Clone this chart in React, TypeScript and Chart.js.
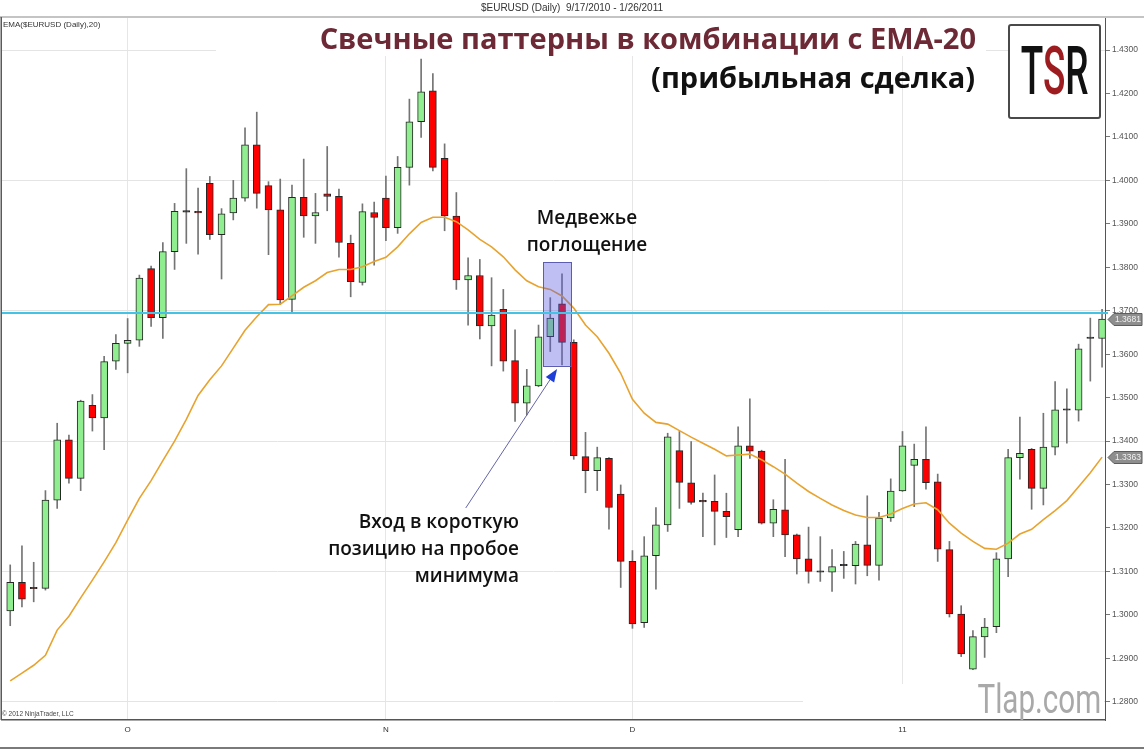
import React, { useEffect, useRef } from "react";
import { Chart, registerables } from "chart.js";

Chart.register(...registerables);

// ---- data (EUR/USD daily, 9/17/2010 - 1/26/2011) ----
const OPEN = [
  1.3009, 1.3075, 1.3061, 1.3061, 1.3264, 1.3403, 1.3314, 1.3482, 1.3453, 1.3584,
  1.3625, 1.3632, 1.3797, 1.3684, 1.3836, 1.3930, 1.3926, 1.3993, 1.3875, 1.3925,
  1.3959, 1.4082, 1.3988, 1.3932, 1.3726, 1.3961, 1.3918, 1.3969, 1.3963, 1.3855,
  1.3765, 1.3926, 1.3959, 1.3891, 1.4030, 1.4135, 1.4206, 1.4051, 1.3918, 1.3771,
  1.3781, 1.3665, 1.3703, 1.3585, 1.3487, 1.3527, 1.3640, 1.3716, 1.3627, 1.3364,
  1.3332, 1.3360, 1.3278, 1.3123, 1.2982, 1.3136, 1.3207, 1.3378, 1.3304, 1.3261,
  1.3261, 1.3238, 1.3196, 1.3389, 1.3377, 1.3211, 1.3242, 1.3184, 1.3129, 1.3100,
  1.3098, 1.3113, 1.3113, 1.3161, 1.3114, 1.3223, 1.3285, 1.3344, 1.3358, 1.3306,
  1.3150, 1.3002, 1.2875, 1.2949, 1.2973, 1.3129, 1.3362, 1.3381, 1.3291, 1.3386,
  1.3472, 1.3471, 1.3638, 1.3636,
];
const HIGH = [
  1.3115, 1.3159, 1.3121, 1.3286, 1.3441, 1.3414, 1.3494, 1.3507, 1.3595, 1.3645,
  1.3682, 1.3782, 1.3803, 1.3857, 1.3947, 1.4027, 1.3982, 1.4009, 1.3935, 1.4000,
  1.4121, 1.4157, 1.3997, 1.4003, 1.3989, 1.4049, 1.3970, 1.4078, 1.3980, 1.3874,
  1.3946, 1.3950, 1.4010, 1.4055, 1.4187, 1.4279, 1.4246, 1.4084, 1.3972, 1.3822,
  1.3818, 1.3776, 1.3749, 1.3656, 1.3565, 1.3667, 1.3730, 1.3785, 1.3633, 1.3420,
  1.3386, 1.3362, 1.3299, 1.3148, 1.3180, 1.3247, 1.3418, 1.3422, 1.3399, 1.3280,
  1.3322, 1.3280, 1.3433, 1.3497, 1.3379, 1.3265, 1.3358, 1.3186, 1.3202, 1.3180,
  1.3150, 1.3146, 1.3169, 1.3274, 1.3236, 1.3313, 1.3422, 1.3393, 1.3433, 1.3324,
  1.3169, 1.3021, 1.2964, 1.2992, 1.3143, 1.3381, 1.3455, 1.3383, 1.3464, 1.3537,
  1.3520, 1.3623, 1.3683, 1.3703,
];
const LOW = [
  1.2975, 1.3018, 1.3030, 1.3057, 1.3245, 1.3303, 1.3286, 1.3423, 1.3380, 1.3565,
  1.3557, 1.3618, 1.3664, 1.3636, 1.3795, 1.3855, 1.3830, 1.3864, 1.3773, 1.3909,
  1.3952, 1.3936, 1.3829, 1.3714, 1.3696, 1.3869, 1.3855, 1.3930, 1.3823, 1.3732,
  1.3759, 1.3805, 1.3861, 1.3878, 1.3989, 1.4099, 1.4022, 1.3884, 1.3749, 1.3667,
  1.3635, 1.3573, 1.3561, 1.3445, 1.3460, 1.3525, 1.3606, 1.3575, 1.3358, 1.3281,
  1.3286, 1.3197, 1.3063, 1.2969, 1.2971, 1.3059, 1.3192, 1.3245, 1.3255, 1.3180,
  1.3161, 1.3178, 1.3180, 1.3360, 1.3209, 1.3180, 1.3134, 1.3094, 1.3073, 1.3077,
  1.3054, 1.3084, 1.3071, 1.3090, 1.3080, 1.3215, 1.3284, 1.3249, 1.3289, 1.3123,
  1.2995, 1.2904, 1.2874, 1.2902, 1.2959, 1.3088, 1.3312, 1.3243, 1.3253, 1.3368,
  1.3395, 1.3446, 1.3538, 1.3570,
];
const CLOSE = [
  1.3075, 1.3036, 1.3060, 1.3264, 1.3403, 1.3314, 1.3492, 1.3453, 1.3583, 1.3625,
  1.3632, 1.3775, 1.3684, 1.3836, 1.3929, 1.3927, 1.3925, 1.3875, 1.3923, 1.3959,
  1.4082, 1.3970, 1.3932, 1.3725, 1.3961, 1.3918, 1.3926, 1.3963, 1.3857, 1.3767,
  1.3928, 1.3915, 1.3891, 1.4030, 1.4135, 1.4204, 1.4030, 1.3918, 1.3771, 1.3781,
  1.3665, 1.3690, 1.3584, 1.3487, 1.3527, 1.3640, 1.3683, 1.3627, 1.3366, 1.3332,
  1.3362, 1.3247, 1.3123, 1.2979, 1.3136, 1.3207, 1.3410, 1.3305, 1.3259, 1.3260,
  1.3238, 1.3226, 1.3389, 1.3377, 1.3211, 1.3243, 1.3184, 1.3129, 1.3100, 1.3098,
  1.3111, 1.3114, 1.3163, 1.3114, 1.3223, 1.3285, 1.3389, 1.3358, 1.3304, 1.3151,
  1.3002, 1.2910, 1.2950, 1.2972, 1.3129, 1.3362, 1.3372, 1.3291, 1.3386, 1.3472,
  1.3471, 1.3612, 1.3636, 1.3681,
];
const EMA20 = [
  1.2848, 1.2866, 1.2884, 1.2907, 1.2965, 1.2997, 1.3039, 1.3080, 1.3122, 1.3166,
  1.3218, 1.3268, 1.3309, 1.3355, 1.3400, 1.3450, 1.3505, 1.3541, 1.3573, 1.3614,
  1.3655, 1.3686, 1.3714, 1.3715, 1.3734, 1.3754, 1.3769, 1.3788, 1.3795, 1.3795,
  1.3801, 1.3813, 1.3823, 1.3847, 1.3877, 1.3903, 1.3915, 1.3915, 1.3905, 1.3886,
  1.3864, 1.3847, 1.3824, 1.3794, 1.3769, 1.3755, 1.3749, 1.3734, 1.3706, 1.3667,
  1.3640, 1.3602, 1.3556, 1.3496, 1.3464, 1.3443, 1.3439, 1.3424, 1.3409, 1.3395,
  1.3381, 1.3366, 1.3368, 1.3370, 1.3357, 1.3341, 1.3324, 1.3303, 1.3284, 1.3268,
  1.3253, 1.3240, 1.3230, 1.3224, 1.3224, 1.3232, 1.3245, 1.3255, 1.3258, 1.3242,
  1.3211, 1.3188, 1.3169, 1.3153, 1.3151, 1.3165, 1.3186, 1.3197, 1.3219, 1.3240,
  1.3263, 1.3295, 1.3327, 1.3363,
];

const Y_TICKS = [
  1.28, 1.29, 1.3, 1.31, 1.32, 1.33, 1.34, 1.35, 1.36, 1.37, 1.38, 1.39, 1.4, 1.41,
  1.42, 1.43,
];
const Y_MIN = 1.2758;
const Y_MAX = 1.4376;
const MONTH_TICKS = [10, 32, 53, 76];
const MONTH_LABELS = ["O", "N", "D", "11"];

// annotations in data coordinates (bar index, price)
const LEVEL_LINE = 1.3695;
const PATTERN_BOX = { x0: 45.4, x1: 47.77, y0: 1.3573, y1: 1.3812 };
const ARROW_FROM = { x: 38.8, y: 1.3246 };
const ARROW_TO = { x: 46.58, y: 1.3566 };

const FONT = "'Liberation Sans', Arial, sans-serif";

const overlayPlugin = {
  id: "overlay",
  beforeDatasetsDraw(chart: any) {
    const { ctx, chartArea } = chart;
    ctx.save();
    ctx.fillStyle = "#ffffff";
    // white backdrops of the pasted title and watermark
    ctx.fillRect(216, chartArea.top + 1, 770, 38);
    ctx.fillRect(803, 684, chartArea.right - 803 - 1, chartArea.bottom - 685);
    ctx.restore();
  },
  afterDatasetsDraw(chart: any) {
    const { ctx, chartArea, scales } = chart;
    const xs = scales.x;
    const ys = scales.y;
    ctx.save();
    // pattern highlight box
    const bx0 = xs.getPixelForValue(PATTERN_BOX.x0);
    const bx1 = xs.getPixelForValue(PATTERN_BOX.x1);
    const by0 = ys.getPixelForValue(PATTERN_BOX.y1);
    const by1 = ys.getPixelForValue(PATTERN_BOX.y0);
    ctx.fillStyle = "rgba(88, 88, 225, 0.38)";
    ctx.fillRect(bx0, by0, bx1 - bx0, by1 - by0);
    ctx.strokeStyle = "#5c5cb0";
    ctx.lineWidth = 1;
    ctx.strokeRect(Math.round(bx0) + 0.5, Math.round(by0) + 0.5, Math.round(bx1 - bx0), Math.round(by1 - by0));

    // horizontal level line
    const ly = ys.getPixelForValue(LEVEL_LINE);
    ctx.strokeStyle = "#45c3e6";
    ctx.lineWidth = 2;
    ctx.beginPath();
    ctx.moveTo(chartArea.left, ly);
    ctx.lineTo(chartArea.right + 3, ly);
    ctx.stroke();

    // arrow
    const ax0 = xs.getPixelForValue(ARROW_FROM.x);
    const ay0 = ys.getPixelForValue(ARROW_FROM.y);
    const ax1 = xs.getPixelForValue(ARROW_TO.x);
    const ay1 = ys.getPixelForValue(ARROW_TO.y);
    const ang = Math.atan2(ay1 - ay0, ax1 - ax0);
    const hl = 13;
    const hw = 5;
    const bxh = ax1 - Math.cos(ang) * hl;
    const byh = ay1 - Math.sin(ang) * hl;
    ctx.strokeStyle = "#6464a8";
    ctx.lineWidth = 1;
    ctx.beginPath();
    ctx.moveTo(ax0, ay0);
    ctx.lineTo(bxh, byh);
    ctx.stroke();
    ctx.fillStyle = "#1e3ed8";
    ctx.beginPath();
    ctx.moveTo(ax1, ay1);
    ctx.lineTo(bxh + Math.sin(ang) * hw, byh - Math.cos(ang) * hw);
    ctx.lineTo(bxh - Math.sin(ang) * hw, byh + Math.cos(ang) * hw);
    ctx.closePath();
    ctx.fill();
    ctx.restore();
  },
  afterDraw(chart: any) {
    const { ctx, chartArea, scales } = chart;
    const ys = scales.y;
    ctx.save();
    // header separator and frame
    ctx.fillStyle = "#c4c4c4";
    ctx.fillRect(0, 16, 1144, 2);
    ctx.fillStyle = "#5a5a5a";
    ctx.fillRect(chartArea.left - 1.5, chartArea.top, 1.5, chartArea.bottom - chartArea.top);
    ctx.fillStyle = "#7a7a7a";
    ctx.fillRect(0, 747, 1144, 2);

    // value tags on the price axis
    const tag = (value: number) => {
      const y = Math.round(ys.getPixelForValue(value)) + 0.5;
      const x0 = chartArea.right + 3;
      ctx.beginPath();
      ctx.moveTo(x0, y);
      ctx.lineTo(x0 + 6, y - 6);
      ctx.lineTo(x0 + 34, y - 6);
      ctx.lineTo(x0 + 34, y + 6);
      ctx.lineTo(x0 + 6, y + 6);
      ctx.closePath();
      ctx.fillStyle = "#8e8e8e";
      ctx.fill();
      ctx.strokeStyle = "#5e5e5e";
      ctx.lineWidth = 1;
      ctx.stroke();
      ctx.fillStyle = "#f2f2f2";
      ctx.font = `8.5px ${FONT}`;
      ctx.textBaseline = "middle";
      ctx.textAlign = "left";
      ctx.fillText(value.toFixed(4), x0 + 7, y + 0.5);
    };
    tag(CLOSE[CLOSE.length - 1]);
    tag(EMA20[EMA20.length - 1]);
    ctx.restore();
  },
};

export default function App() {
  const ref = useRef<HTMLCanvasElement>(null);

  useEffect(() => {
    document.body.style.margin = "0";
    const canvas = ref.current;
    if (!canvas) return;

    const bodyData = OPEN.map((o, i) => ({ x: i, y: [o, CLOSE[i]] }));
    const wickData = LOW.map((l, i) => ({ x: i, y: [l, HIGH[i]] }));
    const emaData = EMA20.map((v, i) => ({ x: i, y: v }));
    const bodyColors = OPEN.map((o, i) => {
      const c = CLOSE[i];
      if (Math.abs(c - o) < 0.00035) return c < o ? "#7a0a0a" : "#222222";
      return c >= o ? "#90ee90" : "#ff0000";
    });

    const chart = new Chart(canvas, {
      type: "bar",
      data: {
        datasets: [
          {
            type: "line",
            data: emaData as any,
            borderColor: "#e8a32e",
            borderWidth: 1.6,
            pointRadius: 0,
            tension: 0,
            order: 0,
          } as any,
          {
            type: "bar",
            data: bodyData as any,
            backgroundColor: bodyColors,
            borderColor: "#262626",
            borderWidth: 1,
            borderSkipped: false,
            barThickness: 7,
            grouped: false,
            minBarLength: 1.5,
            order: 1,
          } as any,
          {
            type: "bar",
            data: wickData as any,
            backgroundColor: "#747474",
            borderWidth: 0,
            barThickness: 1,
            grouped: false,
            order: 2,
          } as any,
        ],
      },
      options: {
        responsive: false,
        animation: false,
        devicePixelRatio: 1,
        events: [],
        layout: { padding: { left: 2, top: 17, right: 0, bottom: 0 } },
        plugins: { legend: { display: false }, tooltip: { enabled: false } },
        scales: {
          x: {
            type: "linear",
            min: -0.7,
            max: 93.25,
            offset: false,
            afterBuildTicks: (s: any) => {
              s.ticks = MONTH_TICKS.map((v) => ({ value: v }));
            },
            afterFit: (s: any) => {
              s.height = 30;
            },
            ticks: {
              callback: (_v: any, i: number) => MONTH_LABELS[i],
              color: "#333",
              font: { size: 8, family: FONT },
              padding: 2,
              maxRotation: 0,
              autoSkip: false,
            },
            grid: { offset: false, color: "#e6e6e6", tickLength: 3, tickColor: "rgba(0,0,0,0)" },
            border: { color: "#555", width: 1.5 },
          } as any,
          y: {
            type: "linear",
            position: "right",
            min: Y_MIN,
            max: Y_MAX,
            afterBuildTicks: (s: any) => {
              s.ticks = Y_TICKS.map((v) => ({ value: v }));
            },
            afterFit: (s: any) => {
              s.width = 39;
            },
            ticks: {
              callback: (v: any) => Number(v).toFixed(4),
              color: "#555",
              font: { size: 8.5, family: FONT },
              padding: 2,
              autoSkip: false,
            },
            grid: {
              offset: false,
              color: (c: any) => {
                const v = c.tick ? c.tick.value : 0;
                const k = Math.round((v - 1.28) * 100);
                return k % 3 === 0 ? "#e4e4e4" : "rgba(0,0,0,0)";
              },
              tickColor: "#777",
              tickLength: 5,
            },
            border: { color: "#555", width: 1 },
          } as any,
        },
      } as any,
      plugins: [overlayPlugin],
    });
    return () => chart.destroy();
  }, []);

  const abs: React.CSSProperties = { position: "absolute", whiteSpace: "nowrap", margin: 0 };

  return (
    <div style={{ position: "relative", width: 1144, height: 750, background: "#fff", overflow: "hidden" }}>
      <canvas ref={ref} width={1144} height={750} style={{ display: "block", width: 1144, height: 750 }} />

      <div style={{ ...abs, left: 0, width: 1144, top: 2, textAlign: "center", font: `10px ${FONT}`, color: "#333" }}>
        $EURUSD (Daily)&nbsp; 9/17/2010 - 1/26/2011
      </div>
      <div style={{ ...abs, left: 3, top: 20, font: `8px ${FONT}`, color: "#333" }}>EMA($EURUSD (Daily),20)</div>
      <div style={{ ...abs, left: 2, top: 710, font: `6.5px ${FONT}`, color: "#444" }}>© 2012 NinjaTrader, LLC</div>

      <div style={{ ...abs, right: 1144 - 976, top: 21, fontFamily: "'Open Sans', sans-serif", fontWeight: 700, fontSize: 29, lineHeight: "34px", color: "#6d2a36" }}>
        Свечные паттерны в комбинации с EMA-20
      </div>
      <div style={{ ...abs, right: 1144 - 975, top: 60, fontFamily: "'Open Sans', sans-serif", fontWeight: 700, fontSize: 29, lineHeight: "34px", color: "#111" }}>
        (прибыльная сделка)
      </div>

      <div style={{ ...abs, left: 1008, top: 24, width: 93, height: 95, boxSizing: "border-box", border: "2px solid #4a4a4a", borderRadius: 3, background: "#fff", display: "flex", alignItems: "center", justifyContent: "center", overflow: "hidden" }}>
        <span style={{ fontFamily: "Roboto, sans-serif", fontWeight: 500, fontSize: 66, lineHeight: "66px", transform: "scaleX(0.56)", color: "#111", letterSpacing: 0 }}>
          T<span style={{ color: "#9c1c1f" }}>S</span>R
        </span>
      </div>

      <div style={{ ...abs, left: 487, width: 200, top: 204, textAlign: "center", fontFamily: "'Open Sans', sans-serif", fontWeight: 600, fontSize: 19, lineHeight: "27px", color: "#111" }}>
        Медвежье
        <br />
        поглощение
      </div>
      <div style={{ ...abs, right: 1144 - 519, top: 508, textAlign: "right", fontFamily: "'Open Sans', sans-serif", fontWeight: 600, fontSize: 19, lineHeight: "27px", color: "#111" }}>
        Вход в короткую
        <br />
        позицию на пробое
        <br />
        минимума
      </div>

      <div style={{ ...abs, right: 1144 - 1101, top: 679, fontFamily: "Roboto, sans-serif", fontWeight: 400, fontSize: 40, lineHeight: "42px", color: "#a9a9a9", transform: "scaleX(0.74)", transformOrigin: "right center" }}>
        Tlap.com
      </div>
    </div>
  );
}
